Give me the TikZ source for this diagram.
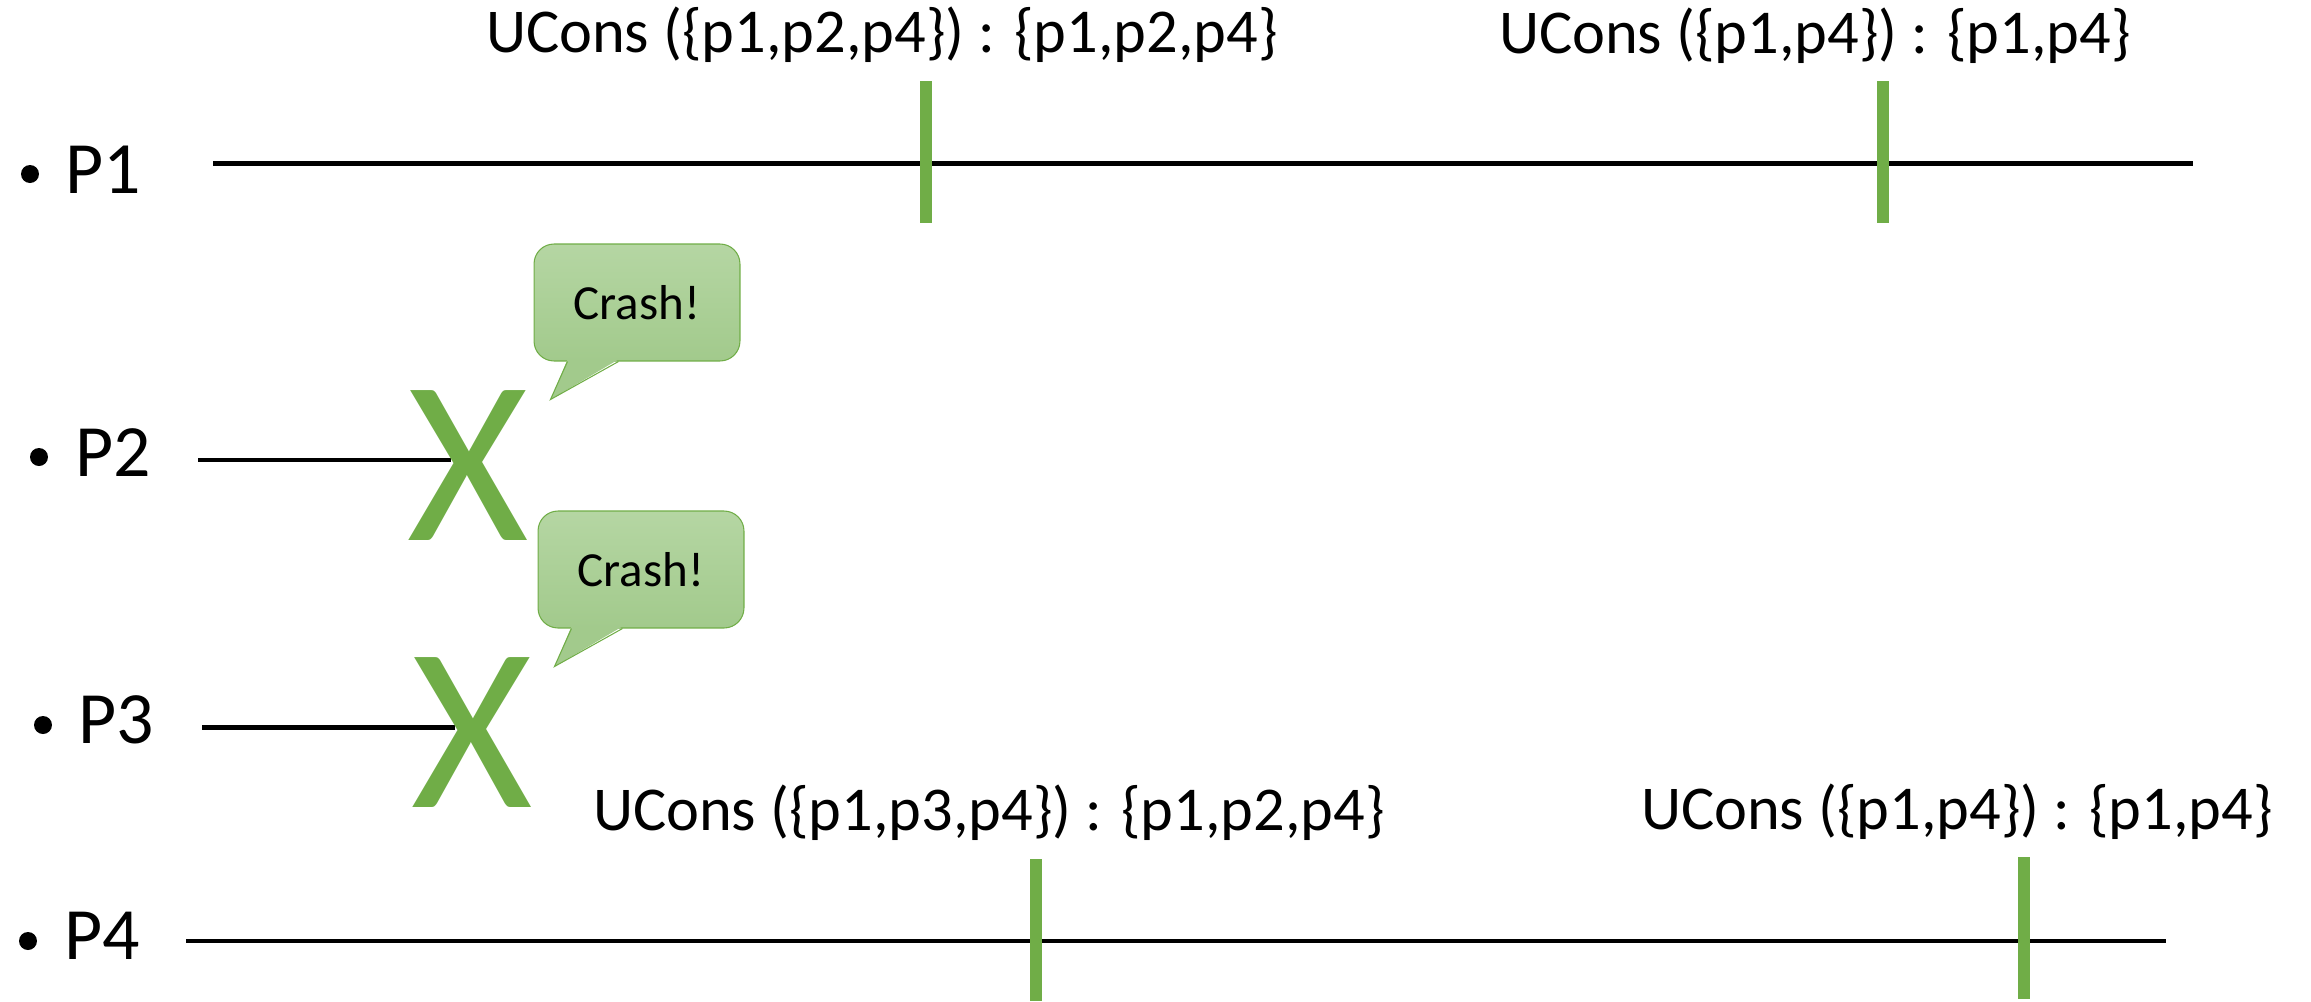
\documentclass[tikz,border=0pt]{standalone}
\usepackage{fontspec}
\setmainfont{Carlito}

\definecolor{accgreen}{HTML}{70AD47}
\definecolor{bubtop}{HTML}{B5D6A3}
\definecolor{bubbot}{HTML}{A2CA8C}

\begin{document}
\begin{tikzpicture}[
    x=0.02cm, y=-0.02cm,
    timeline/.style={draw, black, line width=2.3pt},
    tick/.style={draw, accgreen, line width=6.3pt},
    dot/.style={circle, fill=black, inner sep=0pt, minimum size=0.36cm},
    plabel/.style={anchor=base, inner sep=0pt, font=\fontsize{42}{50}\selectfont},
    ucons/.style={anchor=base, inner sep=0pt, font=\fontsize{35.5}{42}\selectfont},
    bubble/.style={rectangle, rounded corners=0.4cm, draw=accgreen, line width=0.6pt,
        top color=bubtop, bottom color=bubbot, minimum width=4.12cm, minimum height=2.34cm,
        font=\fontsize{27.9}{33}\selectfont},
    crossmark/.style={inner sep=0pt, text=accgreen, font=\fontsize{133}{133}\selectfont}
]
\useasboundingbox (0,0) rectangle (2311,1001);

% ----------------------------
% Processes
% ----------------------------
\node[dot] (d1) at (30,174) {};
\node[dot] (d2) at (39,457) {};
\node[dot] (d3) at (43,725) {};
\node[dot] (d4) at (28,941) {};

\node[plabel] (P1) at (103.5,193) {P1};
\node[plabel] (P2) at (113.5,476) {P2};
\node[plabel] (P3) at (116.5,743) {P3};
\node[plabel] (P4) at (102.5,959) {P4};

% time lines
\coordinate (p1s) at (213,163.5);  \coordinate (p1e) at (2193,163.5);
\coordinate (p2s) at (198,460);    \coordinate (p2e) at (451,460);
\coordinate (p3s) at (202,727.5);  \coordinate (p3e) at (455,727.5);
\coordinate (p4s) at (186,941);    \coordinate (p4e) at (2166,941);

\path[timeline] (p1s) -- (p1e);
\path[timeline] (p2s) -- (p2e);
\path[timeline] (p3s) -- (p3e);
\path[timeline] (p4s) -- (p4e);

% ----------------------------
% Decisions on P1 and P4
% ----------------------------
\coordinate (t1a) at (926,81);   \coordinate (t1b) at (926,223);
\coordinate (t2a) at (1883,81);  \coordinate (t2b) at (1883,223);
\coordinate (t3a) at (1036,859); \coordinate (t3b) at (1036,1001);
\coordinate (t4a) at (2024,857); \coordinate (t4b) at (2024,999);

\path[tick] (t1a) -- (t1b);
\path[tick] (t2a) -- (t2b);
\path[tick] (t3a) -- (t3b);
\path[tick] (t4a) -- (t4b);

\node[ucons] (u1) at (882,52) {UCons (\{p1,p2,p4\}) : \{p1,p2,p4\}};
\node[ucons] (u2) at (1815,53) {UCons (\{p1,p4\}) : \{p1,p4\}};
\node[ucons] (u3) at (989,830) {UCons (\{p1,p3,p4\}) : \{p1,p2,p4\}};
\node[ucons] (u4) at (1957,829) {UCons (\{p1,p4\}) : \{p1,p4\}};

% ----------------------------
% Crashes of P2 and P3
% ----------------------------
\node[crossmark] (xA) at (468.5,466) {X};
\node[crossmark] (xB) at (472.5,732.5) {X};

\node[bubble] (crashA) at (637,302.5) {Crash!};
\node[bubble] (crashB) at (641,569.5) {Crash!};

% speech tails
\foreach \b in {crashA,crashB} {
    \fill[bubbot] ([xshift=0.68cm,yshift=1.2pt]\b.south west) -- ([xshift=0.34cm,yshift=-0.76cm]\b.south west)
        -- ([xshift=1.7cm,yshift=1.2pt]\b.south west) -- cycle;
    \draw[accgreen, line width=0.6pt] ([xshift=0.68cm]\b.south west) -- ([xshift=0.34cm,yshift=-0.76cm]\b.south west)
        -- ([xshift=1.7cm]\b.south west);
}

\end{tikzpicture}
\end{document}
